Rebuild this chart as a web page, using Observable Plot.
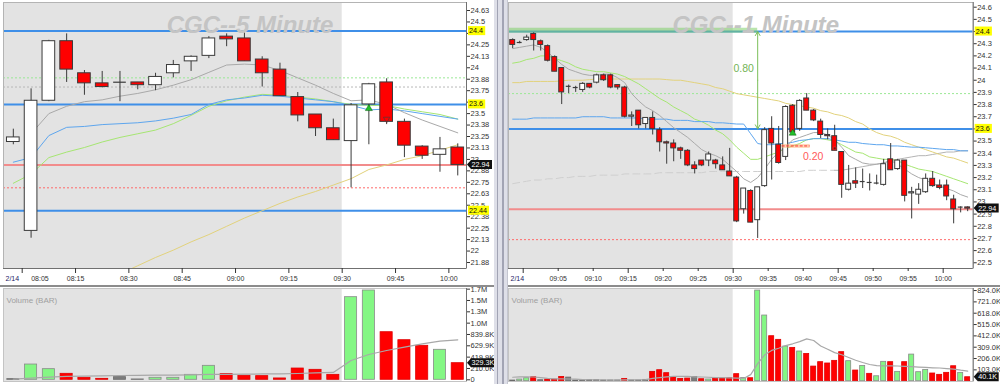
<!DOCTYPE html>
<html><head><meta charset="utf-8">
<script src="https://cdn.jsdelivr.net/npm/d3@7"></script>
<script src="https://cdn.jsdelivr.net/npm/@observablehq/plot@0.6"></script>
<style>
body{margin:0;background:#fff;}
#root{position:relative;width:1000px;height:384px;overflow:hidden;background:#fff;font-family:'Liberation Sans',Arial,sans-serif;}
.ln{position:absolute;}
</style></head><body><div id="root"></div>
<script>
// ---------------- LEFT PANEL (5 minute) DATA ----------------
const leftTitle = "CGC--5 Minute";
const leftDate = "2/14";
const leftTimes = ["07:55","08:00","08:05","08:10","08:15","08:20","08:25","08:30","08:35","08:40","08:45","08:50","08:55","09:00","09:05","09:10","09:15","09:20","09:25","09:30","09:35","09:40","09:45","09:50","09:55","10:00"];
const leftOpen  = [23.19,22.22,23.64,24.29,23.94,23.83,23.84,23.84,23.81,23.94,24.07,24.13,24.34,24.32,24.09,23.98,23.68,23.49,23.34,23.20,23.60,23.84,23.41,23.14,23.05,23.13];
const leftHigh  = [23.33,23.77,24.30,24.37,23.97,23.96,23.96,23.84,23.94,24.08,24.13,24.34,24.37,24.38,24.12,24.05,23.73,23.49,23.44,23.61,23.83,23.88,23.44,23.15,23.24,23.17];
const leftLow   = [23.16,22.14,23.63,23.84,23.70,23.78,23.63,23.76,23.75,23.89,23.96,24.10,24.23,24.07,23.79,23.69,23.41,23.25,23.21,22.69,23.16,23.38,23.02,23.00,22.86,22.82];
const leftClose = [23.24,23.64,24.29,23.98,23.83,23.79,23.845,23.81,23.90,24.03,24.12,24.32,24.31,24.07,23.94,23.69,23.48,23.34,23.21,23.59,23.82,23.41,23.15,23.04,23.11,22.94];
const leftVolK  = [12,283,197,111,37,18,49,6,37,37,92,259,105,74,68,25,209,185,92,1531,1655,882,734,630,556,308];
const leftVolDir = ["flat","up","up","down","down","down","flat","flat","up","up","up","up","down","down","down","down","down","down","down","up","up","down","down","down","up","down"];
const leftVolAvgK = [12,31,49,62,68,74,80,82,86,88,93,99,102,105,108,111,117,130,136,358,469,543,605,667,716,741];
const leftMaGray   = [null,23.28,23.50,23.58,23.63,23.65,23.69,23.72,23.76,23.81,23.87,23.95,24.03,24.04,24.03,23.97,23.89,23.81,23.72,23.64,23.65,23.60,23.51,23.43,23.36,23.29];
const leftMaBlue   = [22.97,23.02,23.26,23.35,23.36,23.38,23.39,23.40,23.42,23.45,23.49,23.60,23.65,23.67,23.70,23.69,23.67,23.65,23.63,23.59,23.54,23.55,23.53,23.50,23.47,23.44];
const leftMaGreen  = [22.74,22.84,23.02,23.08,23.13,23.19,23.24,23.28,23.32,23.39,23.48,23.58,23.64,23.68,23.71,23.70,23.68,23.66,23.63,23.60,23.59,23.59,23.55,23.52,23.49,23.44];
const leftMaYellow = [null,null,null,null,null,null,21.75,21.84,21.93,22.01,22.10,22.18,22.27,22.36,22.44,22.52,22.59,22.65,22.72,22.79,22.89,22.94,23.00,23.04,23.10,23.16];
const leftLevelsBlue = [24.4, 23.6, 22.44];
const leftLevelsRed = [22.94];
const leftLevelsRedDot = [22.69];
const leftLevelsGreenDot = [23.89];
const leftLevelsGrayDot = [23.79];
const leftTagYellow = ["24.4","23.6","22.44"];
const leftPriceTag = "22.94";
const leftPriceTicks = [24.625,24.5,24.375,24.25,24.125,24,23.875,23.75,23.625,23.5,23.375,23.25,23.125,23,22.875,22.75,22.625,22.5,22.375,22.25,22.125,22,21.875];
const leftPriceTickLabels = ["24.63","24.5","24.38","24.25","24.13","24","23.88","23.75","23.63","23.5","23.38","23.25","23.13","23","22.88","22.75","22.63","22.5","22.38","22.25","22.13","22","21.88"];
const leftHiddenTickLabels = [24.375, 23.625];
const leftTimeTicks = ["08:00","08:15","08:30","08:45","09:00","09:15","09:30","09:45","10:00"];
const leftTimeLabels = ["08:05","08:15","08:30","08:45","09:00","09:15","09:30","09:45","10:00"];
const leftVolTicksK = [0,209.95,419.9,629.85,839.8,1049.75,1259.7,1469.65,1679.6];
const leftVolTickLabels = ["0","210.0K","419.9K","629.9K","839.8K","1.0M","1.3M","1.5M","1.7M"];
const leftVolTag = "329.3K";
const leftSignalUpTimes = ["09:35"], leftSignalUpPrices = [23.555];
const leftSignalDnTimes = ["09:40"], leftSignalDnPrices = [23.44];

// ---------------- RIGHT PANEL (1 minute) DATA ----------------
const rightTitle = "CGC--1 Minute";
const rightDate = "2/14";
const rightTimes = [
"08:58","08:59","09:00","09:01","09:02","09:03","09:04","09:05","09:06","09:07",
"09:08","09:09","09:10","09:11","09:12","09:13","09:14","09:15","09:16","09:17",
"09:18","09:19","09:20","09:21","09:22","09:23","09:24","09:25","09:26","09:27",
"09:28","09:29","09:30","09:31","09:32","09:33","09:34","09:35","09:36","09:37",
"09:38","09:39","09:40","09:41","09:42","09:43","09:44","09:45","09:46","09:47",
"09:48","09:49","09:50","09:51","09:52","09:53","09:54","09:55","09:56","09:57",
"09:58","09:59","10:00","10:01","10:02","10:03"];
const rightOpen = [
24.33,24.31,24.33,24.38,24.32,24.28,24.19,24.10,23.95,23.94,
23.92,23.97,23.98,24.04,24.04,23.96,23.94,23.70,23.75,23.64,
23.69,23.59,23.49,23.48,23.44,23.42,23.30,23.34,23.34,23.34,
23.30,23.25,23.20,22.94,23.09,22.85,23.13,23.60,23.47,23.37,
23.79,23.60,23.85,23.75,23.66,23.55,23.54,23.41,23.10,23.17,
23.17,23.16,23.155,23.14,23.35,23.27,23.34,23.07,23.06,23.08,
23.19,23.135,23.135,23.02,22.955,22.955];
const rightHigh = [
24.34,24.32,24.37,24.39,24.33,24.29,24.20,24.10,23.96,23.95,
23.98,23.97,24.05,24.05,24.05,23.96,23.95,23.74,23.75,23.69,
23.74,23.61,23.50,23.51,23.45,23.43,23.33,23.34,23.41,23.35,
23.37,23.44,23.21,23.11,23.10,23.12,23.61,23.70,23.62,23.79,
23.80,23.84,23.89,23.76,23.68,23.60,23.63,23.41,23.30,23.28,
23.27,23.23,23.22,23.35,23.48,23.35,23.34,23.12,23.15,23.23,
23.25,23.18,23.18,23.055,22.96,22.96];
const rightLow = [
24.26,24.30,24.32,24.24,24.24,24.15,24.07,23.80,23.89,23.90,
23.90,23.93,23.97,23.99,23.93,23.92,23.69,23.62,23.60,23.60,
23.55,23.41,23.31,23.33,23.35,23.29,23.23,23.29,23.29,23.27,
23.26,23.21,22.83,22.90,22.83,22.70,23.12,23.18,23.31,23.34,
23.55,23.58,23.75,23.66,23.52,23.51,23.42,23.03,23.09,23.11,
23.11,23.09,23.14,23.13,23.26,23.26,23.00,22.86,22.98,23.07,
23.12,23.10,23.01,22.82,22.91,22.92];
const rightClose = [
24.29,24.31,24.35,24.33,24.29,24.16,24.07,23.90,23.95,23.94,
23.97,23.94,24.04,24.00,23.94,23.94,23.70,23.71,23.63,23.69,
23.60,23.49,23.48,23.44,23.42,23.30,23.27,23.30,23.39,23.31,
23.26,23.21,22.84,23.11,22.83,23.12,23.59,23.48,23.32,23.78,
23.57,23.83,23.75,23.67,23.55,23.54,23.42,23.14,23.15,23.15,
23.165,23.16,23.155,23.31,23.26,23.34,23.05,23.08,23.10,23.19,
23.13,23.115,23.045,22.94,22.96,22.945];
const rightVolK = [
6,15,27,36,9,15,15,39,33,6,
6,9,9,6,6,6,21,6,6,12,
85,100,73,36,21,24,39,18,15,27,
24,27,64,30,27,824,597,409,376,315,
303,270,248,133,173,161,185,264,182,97,
139,67,45,176,173,85,173,242,82,103,
70,58,76,136,76,36];
const rightVolDir = [
"flat","up","up","down","flat","down","down","down","flat","flat",
"flat","flat","flat","flat","flat","flat","down","flat","flat","flat",
"down","down","down","down","down","down","flat","down","up","down",
"down","down","down","up","down","up","up","down","down","up",
"down","up","down","down","down","down","down","down","up","down",
"up","down","up","up","down","up","down","up","up","up",
"down","down","down","down","up","down"];
const rightVolAvgK = [
36,40,40,38,33,25,22,22,20,18,
15,13,12,11,10,10,12,12,12,15,
25,33,40,44,45,43,40,38,36,33,
32,30,28,25,60,160,240,280,300,324,
340,360,385,370,320,290,260,240,215,190,
170,152,142,140,140,138,135,132,128,125,
122,120,115,110,100,92];
const rightMaGray = [
24.26,24.27,24.28,24.29,24.27,24.23,24.18,24.13,24.09,24.07,
24.05,24.04,24.04,24.05,24.05,24.02,23.98,23.89,23.83,23.78,
23.75,23.71,23.66,23.61,23.57,23.53,23.48,23.43,23.40,23.38,
23.35,23.30,23.25,23.19,23.16,23.20,23.27,23.35,23.41,23.45,
23.51,23.53,23.55,23.57,23.57,23.55,23.51,23.45,23.38,23.35,
23.32,23.31,23.31,23.32,23.34,23.31,23.27,23.23,23.20,23.18,
23.15,23.13,23.11,23.09,23.06,23.04];
const rightMaGreen = [
24.14,24.15,24.17,24.18,24.20,24.20,24.18,24.16,24.14,24.11,
24.09,24.08,24.07,24.07,24.06,24.05,24.03,24.00,23.97,23.93,
23.89,23.85,23.82,23.78,23.75,23.72,23.68,23.66,23.63,23.59,
23.56,23.51,23.45,23.40,23.35,23.35,23.37,23.39,23.41,23.44,
23.46,23.48,23.51,23.52,23.52,23.51,23.50,23.47,23.44,23.41,
23.40,23.37,23.36,23.35,23.35,23.34,23.31,23.29,23.27,23.26,
23.25,23.23,23.21,23.19,23.17,23.15];
const rightMaBlue = [
23.68,23.68,23.68,23.69,23.69,23.69,23.69,23.69,23.69,23.69,
23.70,23.70,23.70,23.70,23.69,23.69,23.69,23.69,23.69,23.68,
23.68,23.68,23.68,23.67,23.67,23.67,23.66,23.66,23.66,23.65,
23.65,23.645,23.64,23.64,23.56,23.48,23.47,23.47,23.48,23.48,
23.49,23.505,23.51,23.52,23.52,23.52,23.51,23.50,23.49,23.49,
23.48,23.475,23.47,23.47,23.46,23.46,23.455,23.45,23.45,23.445,
23.44,23.435,23.43,23.43,23.42,23.42];
const rightMaYellow = [
23.98,23.98,23.99,23.99,23.99,23.99,23.99,23.995,24.00,24.00,
24.00,24.005,24.01,24.01,24.01,24.01,24.01,24.01,24.01,24.01,
24.01,24.01,24.005,24.00,24.00,23.99,23.98,23.97,23.96,23.94,
23.93,23.91,23.89,23.88,23.87,23.86,23.85,23.84,23.83,23.81,
23.80,23.79,23.78,23.77,23.75,23.74,23.72,23.71,23.69,23.66,
23.64,23.60,23.57,23.55,23.54,23.52,23.49,23.47,23.45,23.43,
23.41,23.39,23.37,23.36,23.34,23.32];
const rightMaLong = [
23.15,23.16,23.17,23.18,23.18,23.19,23.19,23.20,23.20,23.21,
23.21,23.21,23.22,23.22,23.22,23.22,23.23,23.23,23.23,23.23,
23.23,23.24,23.24,23.24,23.24,23.24,23.24,23.24,23.25,23.25,
23.25,23.25,23.25,23.25,23.25,23.25,23.25,23.25,23.25,23.25,
23.25,23.25,23.26,23.26,23.26,23.26,23.26,23.26,23.27,23.28,
23.29,23.30,23.31,23.32,23.34,23.35,23.36,23.37,23.38,23.38,
23.39,23.40,23.41,23.41,23.42,23.42];
const rightMaLongSolidFrom = "09:44";
const rightLevelsBlue = [24.4, 23.6];
const rightLevelsRed = [22.94];
const rightLevelsRedDot = [22.69];
const rightLevelsGreenDot = [23.89];
const rightTagYellow = ["24.4","23.6"];
const rightPriceTag = "22.94";
const rightPriceTicks = [24.6,24.5,24.4,24.3,24.2,24.1,24.0,23.9,23.8,23.7,23.6,23.5,23.4,23.3,23.2,23.1,23.0,22.9,22.8,22.7,22.6,22.5];
const rightPriceTickLabels = ["24.6","24.5","24.4","24.3","24.2","24.1","24","23.9","23.8","23.7","23.6","23.5","23.4","23.3","23.2","23.1","23","22.9","22.8","22.7","22.6","22.5"];
const rightHiddenTickLabels = [24.4, 23.6];
const rightTimeTicks = ["09:00","09:15","09:30","09:45","10:00"];
const rightTimeMinorTicks = ["09:05","09:10","09:20","09:25","09:35","09:40","09:50","09:55"];
const rightTimeLabels = ["09:05","09:10","09:15","09:20","09:25","09:30","09:35","09:40","09:45","09:50","09:55","10:00"];
const rightVolTicksK = [103,206,309,412,515,618,721,824];
const rightVolTickLabels = ["103.0K","206.0K","309.0K","412.0K","515.0K","618.0K","721.0K","824.0K"];
const rightVolTag = "40.1K";
const rightSignalUpTimes = ["09:38"], rightSignalUpPrices = [23.565];
const rightSignalDnTimes = ["09:44"], rightSignalDnPrices = [23.44];
// annotations on the 1-minute chart
const measureTime = "09:33", measureFrom = 24.4, measureTo = 23.6, measureLabel = "0.80";
const riskStart = "09:37", riskEnd = "09:41", riskPrice = 23.46, riskLabel = "0.20";
const sessionOpen = "09:30";

// ---------------- RENDERING ----------------
const FONT = "'Liberation Sans', Arial, sans-serif";
const root = document.getElementById("root");
const toMin = s => { const [h, m] = s.split(":").map(Number); return h * 60 + m; };
function buildBars(times, o, h, l, c, v, dir, base) {
  return times.map((t, i) => ({t: toMin(t) - base, o: o[i], h: h[i], l: l[i], c: c[i], v: v[i], dir: dir[i], i}));
}
function place(el, left, top) {
  el.style.position = "absolute"; el.style.left = left + "px"; el.style.top = top + "px";
  root.appendChild(el);
}
function line(left, top, w, h, color) {
  const d = document.createElement("div");
  d.className = "ln";
  Object.assign(d.style, {left: left + "px", top: top + "px", width: w + "px", height: h + "px", background: color});
  root.appendChild(d);
}
function addTags(chart, xEnd, tags) {
  const xs = chart.scale("x"), ys = chart.scale("y");
  const x0 = xs.apply(xEnd);
  const g = d3.select(chart).append("g").attr("font-family", FONT).attr("font-size", 7.2).attr("text-anchor", "start");
  for (const t of tags) {
    const yy = ys.apply(t.value);
    const w = t.text.length * 3.8 + 2;
    if (t.kind === "yellow") {
      g.append("rect").attr("x", x0 + 2).attr("y", yy - 4.5).attr("width", w).attr("height", 9).attr("fill", "#ffff00");
      g.append("text").attr("x", x0 + 3).attr("y", yy).attr("dy", "0.35em").attr("fill", "#111").text(t.text);
    } else {
      g.append("path").attr("d", `M${x0 + 1},${yy} l4,-4.5 h${w} v9 h${-w} z`).attr("fill", "#111");
      g.append("text").attr("x", x0 + 5.5).attr("y", yy).attr("dy", "0.35em").attr("fill", "#fff").text(t.text);
    }
  }
}

function pricePanel(cfg) {
  const {bars, dur, inset, xDomain, yDomain, width, mL, mR, openMin, mas, levels, yTicks, yLabels, yHidden,
         xTicks, xMinor, xLabels, dateLabel, title, sigUp, sigDn, extra} = cfg;
  const mid = d => d.t + dur / 2;
  const yLab = new Map(yTicks.map((v, i) => [v, yHidden.includes(v) ? "" : yLabels[i]]));
  const isDoji = d => Math.abs(d.c - d.o) < 0.008;
  const marks = [
    Plot.rect([0], {x1: xDomain[0], x2: openMin, y1: yDomain[0], y2: yDomain[1], fill: "#e3e3e3"}),
    ...levels.map(L => Plot.ruleY(L.values, {stroke: L.stroke, strokeWidth: L.width, strokeDasharray: L.dash})),
    ...(extra.under || []),
    ...mas.map(ma => Plot.line(bars.map(d => ({x: mid(d), y: ma.values[d.i]})), {x: "x", y: "y", stroke: ma.stroke, strokeWidth: 1, strokeDasharray: ma.dash, clip: true})),
    Plot.ruleX(bars, {x: mid, y1: "l", y2: "h", stroke: "#3a3a3a", strokeWidth: 1}),
    Plot.rect(bars.filter(d => !isDoji(d)), {x1: d => d.t + inset, x2: d => d.t + dur - inset, y1: "o", y2: "c",
      fill: d => d.c > d.o ? "#ffffff" : "#ff0000", stroke: "#3a3a3a", strokeWidth: 1}),
    Plot.ruleY(bars.filter(isDoji), {y: d => (d.o + d.c) / 2, x1: d => d.t + inset, x2: d => d.t + dur - inset, stroke: "#3a3a3a", strokeWidth: 1.2}),
    Plot.dot(sigUp, {x: d => d.t + dur / 2, y: "p", symbol: "triangle", r: 2.6, fill: "#22c02a", stroke: "#0a6010", strokeWidth: 0.5}),
    Plot.dot(sigDn, {x: d => d.t + dur / 2, y: "p", symbol: "triangle", rotate: 180, r: 2.4, fill: "none", stroke: "#663333", strokeWidth: 0.8}),
    ...(extra.over || []),
    Plot.text([title], {text: d => d, frameAnchor: "top", dx: 15, dy: 13.5, fontSize: 24, fontWeight: "bold", fontStyle: "italic", fill: "#c4c4c4", fontFamily: FONT}),
    Plot.frame({stroke: "#b4b4b4"}),
    Plot.ruleX([xDomain[1]], {stroke: "#707070"}),
    Plot.ruleY([yDomain[0]], {stroke: "#707070"}),
    Plot.axisY(yTicks, {anchor: "right", tickSize: 3, tickPadding: 1, fontSize: 7.5, tickFormat: d => yLab.get(d)}),
    Plot.axisX(xTicks, {anchor: "bottom", tickSize: 5, tickFormat: () => ""}),
    Plot.axisX(xMinor, {anchor: "bottom", tickSize: 3, tickFormat: () => ""}),
    Plot.text(xLabels, {x: "m", text: "s", frameAnchor: "bottom", dy: 12, fontSize: 7, fill: "#333"}),
    Plot.text([dateLabel], {text: d => d, x: xDomain[0], frameAnchor: "bottom", textAnchor: "start", dx: 2, dy: 12, fontSize: 7, fill: "#222266"})
  ];
  return Plot.plot({
    width, height: 286, marginLeft: mL, marginRight: mR, marginTop: 2, marginBottom: 18,
    x: {type: "linear", domain: xDomain, axis: null},
    y: {type: "linear", domain: yDomain, axis: null},
    style: {fontFamily: FONT, color: "#333", background: "transparent", overflow: "visible"},
    marks
  });
}

function volumePanel(cfg) {
  const {bars, dur, inset, xDomain, yDomain, width, mL, mR, openMin, avg, yTicks, yLabels} = cfg;
  const mid = d => d.t + dur / 2;
  const yLab = new Map(yTicks.map((v, i) => [v, yLabels[i]]));
  const fillOf = {up: "#84f784", down: "#ff0000", flat: "#7c7c7c"};
  const strokeOf = {up: "#8a8a8a", down: "#e00000", flat: "#6a6a6a"};
  return Plot.plot({
    width, height: 98, marginLeft: mL, marginRight: mR, marginTop: 2, marginBottom: 3,
    x: {type: "linear", domain: xDomain, axis: null},
    y: {type: "linear", domain: yDomain, axis: null},
    style: {fontFamily: FONT, color: "#333", background: "transparent", overflow: "visible"},
    marks: [
      Plot.rect([0], {x1: xDomain[0], x2: openMin, y1: yDomain[0], y2: yDomain[1], fill: "#e3e3e3"}),
      Plot.rect(bars, {x1: d => d.t + inset, x2: d => d.t + dur - inset, y1: 0, y2: "v",
        fill: d => fillOf[d.dir], stroke: d => strokeOf[d.dir], strokeWidth: 0.8}),
      Plot.line(bars.map(d => ({x: mid(d), y: avg[d.i]})), {x: "x", y: "y", stroke: "#a8a8a8", strokeWidth: 1.2}),
      Plot.text(["Volume (BAR)"], {text: d => d, frameAnchor: "top-left", dx: 3, dy: 9, fontSize: 8, fill: "#a0a0a0"}),
      Plot.frame({stroke: "#c4c4c4"}),
      Plot.ruleX([xDomain[1]], {stroke: "#707070"}),
      Plot.axisY(yTicks, {anchor: "right", tickSize: 3, tickPadding: 1, fontSize: 7.5, tickFormat: d => yLab.get(d)})
    ]
  });
}

// ----- LEFT -----
const LB = toMin("08:00");
const leftBars = buildBars(leftTimes, leftOpen, leftHigh, leftLow, leftClose, leftVolK, leftVolDir, LB);
const leftX = [-5.26, 124.96];
const leftPriceChart = pricePanel({
  bars: leftBars, dur: 5, inset: 0.72, xDomain: leftX, yDomain: [21.8097, 24.7123], width: 500, mL: 3, mR: 34,
  openMin: toMin(sessionOpen) - LB,
  mas: [
    {values: leftMaYellow, stroke: "#e2d27c"},
    {values: leftMaGreen, stroke: "#a6e672"},
    {values: leftMaBlue, stroke: "#5ea6ee"},
    {values: leftMaGray, stroke: "#a9a9a9"}
  ],
  levels: [
    {values: leftLevelsGrayDot, stroke: "#b8b8b8", width: 1, dash: "2,2"},
    {values: leftLevelsGreenDot, stroke: "#9be896", width: 1, dash: "2,2"},
    {values: leftLevelsRedDot, stroke: "#ff6a6a", width: 1, dash: "2,2"},
    {values: leftLevelsRed, stroke: "#f28c8c", width: 2},
    {values: leftLevelsBlue, stroke: "#3f8fe8", width: 2}
  ],
  yTicks: leftPriceTicks, yLabels: leftPriceTickLabels, yHidden: leftHiddenTickLabels,
  xTicks: leftTimeTicks.map(s => toMin(s) - LB), xMinor: [],
  xLabels: leftTimeLabels.map(s => ({m: toMin(s) - LB, s})),
  dateLabel: leftDate, title: leftTitle,
  sigUp: leftSignalUpTimes.map((s, i) => ({t: toMin(s) - LB, p: leftSignalUpPrices[i]})),
  sigDn: leftSignalDnTimes.map((s, i) => ({t: toMin(s) - LB, p: leftSignalDnPrices[i]})),
  extra: {}
});
place(leftPriceChart, 0, 0);
addTags(leftPriceChart, leftX[1], [
  ...leftLevelsBlue.map((v, i) => ({value: v, text: leftTagYellow[i], kind: "yellow"})),
  {value: leftClose[leftClose.length - 1], text: leftPriceTag, kind: "black"}
]);
const leftVolChart = volumePanel({
  bars: leftBars, dur: 5, inset: 0.8, xDomain: leftX, yDomain: [-31.5, 1691.7], width: 500, mL: 3, mR: 34,
  openMin: toMin(sessionOpen) - LB, avg: leftVolAvgK, yTicks: leftVolTicksK, yLabels: leftVolTickLabels
});
place(leftVolChart, 0, 286);
addTags(leftVolChart, leftX[1], [{value: leftVolK[leftVolK.length - 1], text: leftVolTag, kind: "black"}]);

// ----- RIGHT -----
const RB = toMin("09:00");
const rightBars = buildBars(rightTimes, rightOpen, rightHigh, rightLow, rightClose, rightVolK, rightVolDir, RB);
const rightX = [-2.1, 64.29];
const solidFrom = toMin(rightMaLongSolidFrom) - RB;
const mT = toMin(measureTime) - RB + 0.5;
const mMid = (measureFrom + measureTo) / 2;
const rightPriceChart = pricePanel({
  bars: rightBars, dur: 1, inset: 0.15, xDomain: rightX, yDomain: [22.453, 24.6386], width: 500, mL: 8, mR: 27.3,
  openMin: toMin(sessionOpen) - RB,
  mas: [
    {values: rightMaLong.map((v, i) => rightBars[i].t <= solidFrom ? v : null), stroke: "#cfcfcf", dash: "7,4"},
    {values: rightMaLong.map((v, i) => rightBars[i].t >= solidFrom ? v : null), stroke: "#b4b4b4"},
    {values: rightMaYellow, stroke: "#e2d27c"},
    {values: rightMaGreen, stroke: "#a6e672"},
    {values: rightMaBlue, stroke: "#5ea6ee"},
    {values: rightMaGray, stroke: "#a9a9a9"}
  ],
  levels: [
    {values: rightLevelsGreenDot, stroke: "#9be896", width: 1, dash: "2,2"},
    {values: rightLevelsRedDot, stroke: "#ff6a6a", width: 1, dash: "2,2"},
    {values: rightLevelsRed, stroke: "#f28c8c", width: 2},
    {values: rightLevelsBlue, stroke: "#3f8fe8", width: 2}
  ],
  yTicks: rightPriceTicks, yLabels: rightPriceTickLabels, yHidden: rightHiddenTickLabels,
  xTicks: rightTimeTicks.map(s => toMin(s) - RB),
  xMinor: rightTimeMinorTicks.map(s => toMin(s) - RB),
  xLabels: rightTimeLabels.map(s => ({m: toMin(s) - RB, s})),
  dateLabel: rightDate, title: rightTitle,
  sigUp: rightSignalUpTimes.map((s, i) => ({t: toMin(s) - RB, p: rightSignalUpPrices[i]})),
  sigDn: [],
  extra: {
    under: [
      Plot.ruleY([measureFrom + 0.01], {x1: rightX[0], x2: mT, stroke: "#7fcf6a", strokeOpacity: 0.55, strokeWidth: 5})
    ],
    over: [
      Plot.dot(rightSignalDnTimes.map((s, i) => ({t: toMin(s) - RB + 0.5, p: rightSignalDnPrices[i]})), {x: "t", y: "p", symbol: "square", r: 1.6, fill: "#7a1010", stroke: "#ff3030", strokeWidth: 0.6}),
      Plot.arrow([0], {x1: mT, x2: mT, y1: mMid, y2: measureFrom, stroke: "#7cbf5a", strokeWidth: 1, headLength: 7}),
      Plot.arrow([0], {x1: mT, x2: mT, y1: mMid, y2: measureTo, stroke: "#7cbf5a", strokeWidth: 1, headLength: 7}),
      Plot.text([measureLabel], {text: d => d, x: mT, y: mMid, dx: -14, dy: -12, fontSize: 10.5, fill: "#74b456"}),
      Plot.ruleY([riskPrice], {x1: toMin(riskStart) - RB, x2: toMin(riskEnd) - RB, stroke: "#ffb070", strokeOpacity: 0.5, strokeWidth: 4}),
      Plot.ruleY([riskPrice], {x1: toMin(riskStart) - RB, x2: toMin(riskEnd) - RB, stroke: "#ff3030", strokeWidth: 1, strokeDasharray: "3,1.5"}),
      Plot.text([riskLabel], {text: d => d, x: toMin(riskEnd) - RB, y: riskPrice, dx: 3, dy: 11, fontSize: 10.5, fill: "#ff5a5a"})
    ]
  }
});
place(rightPriceChart, 500, 0);
addTags(rightPriceChart, rightX[1], [
  ...rightLevelsBlue.map((v, i) => ({value: v, text: rightTagYellow[i], kind: "yellow"})),
  {value: rightClose[rightClose.length - 1], text: rightPriceTag, kind: "black"}
]);
const rightVolChart = volumePanel({
  bars: rightBars, dur: 1, inset: 0.14, xDomain: rightX, yDomain: [-2.7, 842.7], width: 500, mL: 8, mR: 27.3,
  openMin: toMin(sessionOpen) - RB, avg: rightVolAvgK, yTicks: rightVolTicksK, yLabels: rightVolTickLabels
});
place(rightVolChart, 500, 286);
addTags(rightVolChart, rightX[1], [{value: rightVolK[rightVolK.length - 1], text: rightVolTag, kind: "black"}]);

// ----- chrome: separators -----
line(0, 285, 494, 1.5, "#8c8c8c");
line(508, 285, 492, 1.5, "#8c8c8c");
line(494, 0, 14, 384, "#dedfe8");
line(496.5, 0, 1, 384, "#a2a4b4");
line(502, 0, 1.5, 384, "#a2a4b4");
line(507, 0, 1, 384, "#c4c6d0");
</script></body></html>
